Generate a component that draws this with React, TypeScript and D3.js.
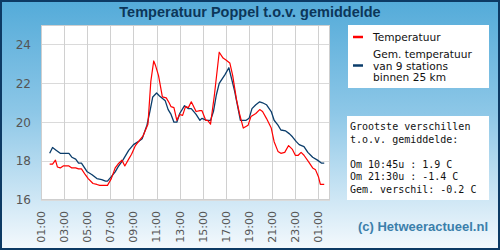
import React from 'react';
import * as d3 from 'd3';

// Measurements, [time, value]. Times after midnight continue on the next day.
const tempTimes = [
  '01:45', '02:00', '02:15', '02:25', '02:40', '02:55', '03:25', '03:40', '04:00', '04:15',
  '04:30', '04:50', '05:05', '05:30', '05:50', '06:05', '06:25', '06:45', '07:05', '07:25',
  '07:40', '08:00', '08:15', '08:35', '08:50', '09:10', '09:30', '09:50', '10:15', '10:30',
  '10:45', '10:55', '11:10', '11:30', '11:50', '12:05', '12:15', '12:30', '12:45', '13:00',
  '13:15', '13:30', '13:45', '14:00', '14:25', '14:45', '14:55', '15:15', '15:25', '15:40',
  '16:00', '16:25', '16:45', '17:00', '17:20', '17:35', '17:55', '18:10', '18:30', '18:55',
  '19:10', '19:35', '19:55', '20:10', '20:30', '20:55', '21:10', '21:30', '21:45', '22:05',
  '22:25', '22:45', '23:00', '23:15', '23:30', '23:45', '00:10', '00:30', '00:45', '01:00',
  '01:10', '01:30'
];
const tempValues = [
  17.85, 17.85, 18.05, 17.7, 17.65, 17.75, 17.75, 17.65, 17.65, 17.6,
  17.6, 17.3, 17.1, 16.85, 16.8, 16.75, 16.75, 16.75, 17.1, 17.65,
  17.85, 18.05, 17.75, 18.1, 18.35, 18.8, 19.05, 19.3, 19.9, 22.1,
  23.15, 22.9, 22.4, 21.3, 21.25, 21.0, 20.8, 20.75, 20.1, 20.4,
  20.35, 20.8, 20.75, 21.05, 20.55, 20.6, 20.6, 20.1, 20.1, 19.9,
  21.4, 23.6, 23.3, 23.2, 23.05, 22.4, 21.15, 20.45, 19.7, 19.85,
  20.3, 20.45, 20.65, 20.55, 20.2, 19.7, 19.0, 18.5, 18.4, 18.45,
  18.8, 18.6, 18.3, 18.3, 18.45, 18.3, 17.95, 17.65, 17.55, 17.2,
  16.8, 16.8
];

const avgTimes = [
  '01:45', '02:00', '02:20', '02:40', '03:25', '03:40', '04:00', '04:15', '04:30', '05:00',
  '05:25', '05:50', '06:15', '06:35', '06:45', '07:05', '07:25', '07:40', '08:05', '08:35',
  '09:00', '09:25', '09:45', '10:10', '10:25', '10:40', '11:00', '11:15', '11:45', '12:00',
  '12:15', '12:30', '12:45', '13:00', '13:25', '13:45', '14:00', '14:25', '14:45', '14:55',
  '15:20', '15:40', '15:55', '16:10', '16:25', '16:55', '17:15', '17:30', '17:45', '18:15',
  '18:45', '19:00', '19:15', '19:35', '19:55', '20:10', '20:30', '20:55', '21:10', '21:30',
  '21:45', '22:10', '22:30', '22:45', '23:05', '23:20', '23:45', '00:05', '00:30', '00:55',
  '01:15', '01:30'
];
const avgValues = [
  18.4, 18.7, 18.55, 18.4, 18.4, 18.2, 18.1, 17.9, 17.9, 17.45,
  17.3, 17.1, 17.05, 16.97, 16.97, 17.2, 17.45, 17.7, 18.05, 18.55,
  18.85, 19.0, 19.15, 19.85, 20.55, 21.3, 21.5, 21.35, 21.1, 20.65,
  20.4, 20.0, 20.0, 20.45, 20.85, 20.7, 20.7, 20.4, 20.1, 20.2,
  20.1, 20.1, 20.55, 21.4, 22.0, 22.45, 22.8, 22.2, 21.6, 20.1,
  20.1, 20.2, 20.7, 20.9, 21.05, 21.0, 20.9, 20.55, 20.1, 19.85,
  19.6, 19.55, 19.4, 19.25, 19.0, 18.85, 18.75, 18.45, 18.2, 18.05,
  17.9, 17.9
];

const tickHours = [1, 3, 5, 7, 9, 11, 13, 15, 17, 19, 21, 23, 25];
const tickLabels = ['01:00', '03:00', '05:00', '07:00', '09:00', '11:00', '13:00',
  '15:00', '17:00', '19:00', '21:00', '23:00', '01:00'];
const yTicks = [16, 18, 20, 22, 24];

const legendItems = [
  { lines: ['Temperatuur'], color: '#ff0000' },
  { lines: ['Gem. temperatuur', 'van 9 stations', 'binnen 25 km'], color: '#0b3d6b' }
];

const infoLines = [
  'Grootste verschillen',
  't.o.v. gemiddelde:',
  '',
  'Om 10:45u : 1.9 C',
  'Om 21:30u : -1.4 C',
  'Gem. verschil: -0.2 C'
];

// turn "HH:MM" strings into running hours, rolling past midnight
const toHours = (times: string[]) => {
  let prev = -1;
  let offset = 0;
  return times.map(t => {
    const [h, m] = t.split(':').map(Number);
    let v = h + m / 60 + offset;
    if (v < prev) {
      offset += 24;
      v += 24;
    }
    prev = v;
    return v;
  });
};

const W = 500;
const H = 250;
const plot = { left: 41, right: 330, top: 25, bottom: 200 };

export default function App() {
  const x = d3.scaleLinear().domain([1, 26]).range([plot.left, plot.right]);
  const y = d3.scaleLinear().domain([16, 25]).range([plot.bottom, plot.top]);

  const line = d3.line<[number, number]>()
    .x(d => x(d[0]))
    .y(d => y(d[1]));

  const tempPts = d3.zip(toHours(tempTimes), tempValues) as [number, number][];
  const avgPts = d3.zip(toHours(avgTimes), avgValues) as [number, number][];

  const sans = 'DejaVu Sans, sans-serif';

  return (
    <>
      <style>{'body{margin:0}'}</style>
      <svg width={W} height={H} style={{ display: 'block' }}>
        <defs>
          <linearGradient id="bg" x1="0" y1="0" x2="0" y2="1">
            <stop offset="0" stopColor="#54abd9" />
            <stop offset="0.45" stopColor="#8dc7e7" />
            <stop offset="1" stopColor="#f4f9fd" />
          </linearGradient>
          <clipPath id="plotClip">
            <rect x={plot.left} y={plot.top} width={plot.right - plot.left} height={plot.bottom - plot.top} />
          </clipPath>
        </defs>

        <rect x={1} y={1} width={W - 2} height={H - 2} fill="url(#bg)" stroke="#0d3a64" strokeWidth={2} />

        <text x={250} y={17} textAnchor="middle" fontFamily="Liberation Sans, Arial, sans-serif"
          fontWeight="bold" fontSize={14.5} fill="#0c3659">
          Temperatuur Poppel t.o.v. gemiddelde
        </text>

        {/* plot area */}
        <rect x={plot.left} y={plot.top} width={plot.right - plot.left} height={plot.bottom - plot.top} fill="#fff" />
        {yTicks.map(t => (
          <line key={'gy' + t} x1={plot.left} x2={plot.right} y1={Math.round(y(t)) + 0.5} y2={Math.round(y(t)) + 0.5}
            stroke="#dadada" />
        ))}
        {tickHours.map((h, i) => (
          <line key={'gx' + i} x1={Math.round(x(h)) + 0.5} x2={Math.round(x(h)) + 0.5} y1={plot.top} y2={plot.bottom}
            stroke="#d0d0d0" />
        ))}
        <rect x={plot.left + 0.5} y={plot.top + 0.5} width={plot.right - plot.left - 1} height={plot.bottom - plot.top - 1}
          fill="none" stroke="#cfcfcf" />

        <g clipPath="url(#plotClip)">
          <path d={line(avgPts) || ''} fill="none" stroke="#0b3d6b" strokeWidth={1.3} strokeLinejoin="round" />
          <path d={line(tempPts) || ''} fill="none" stroke="#ff0000" strokeWidth={1.2} strokeLinejoin="round" />
        </g>

        {/* axes labels */}
        {yTicks.map(t => (
          <text key={'yl' + t} x={31} y={y(t)} dy="0.36em" textAnchor="end" fontFamily={sans} fontSize={12} fill="#555">
            {t}
          </text>
        ))}
        {tickHours.map((h, i) => (
          <text key={'xl' + i} transform={`translate(${x(h)},${211}) rotate(-90)`} dy="0.35em" textAnchor="end"
            fontFamily={sans} fontSize={11} fill="#555">
            {tickLabels[i]}
          </text>
        ))}

        {/* legend */}
        <rect x={348} y={25} width={141} height={63} fill="#fff" />
        {legendItems.map((item, i) => {
          const top = i === 0 ? 37 : 54.5;
          const mid = i === 0 ? 37 : 65.5;
          return (
            <g key={'lg' + i}>
              <line x1={353} x2={363} y1={mid} y2={mid} stroke={item.color} strokeWidth={2.5} />
              {item.lines.map((s, j) => (
                <text key={j} x={373} y={top + j * 11.6} dy="0.35em" fontFamily={sans} fontSize={10.6} fill="#111">
                  {s}
                </text>
              ))}
            </g>
          );
        })}

        {/* differences box */}
        <rect x={347} y={116} width={142} height={84} fill="#fff" />
        {infoLines.map((s, i) => (
          <text key={'in' + i} x={350} y={130 + i * 12.5} fontFamily="DejaVu Sans Mono, monospace" fontSize={10}
            fill="#111" style={{ whiteSpace: 'pre' }}>
            {s}
          </text>
        ))}

        <text x={488} y={231} textAnchor="end" fontFamily="Liberation Sans, Arial, sans-serif" fontWeight="bold"
          fontSize={13} fill="#3b7fab">
          (c) Hetweeractueel.nl
        </text>
      </svg>
    </>
  );
}
